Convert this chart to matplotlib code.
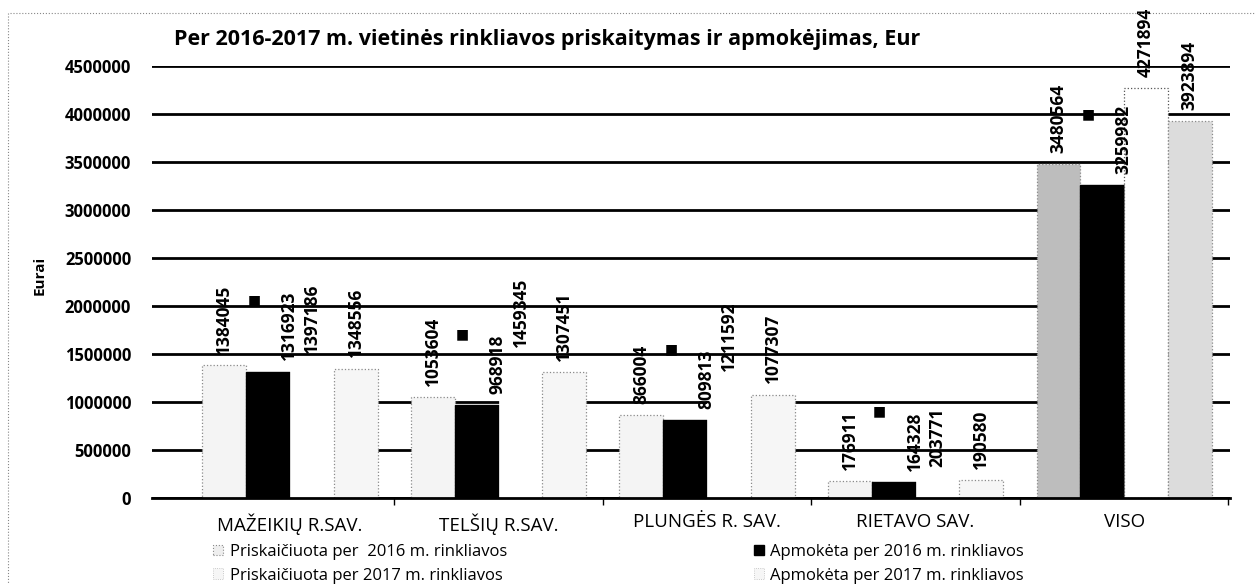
import matplotlib
matplotlib.use("Agg")
import matplotlib.pyplot as plt
import matplotlib.patches as mpatches
import numpy as np

plt.rcParams['font.family'] = ['Open Sans', 'DejaVu Sans']

categories = ["MAŽEIKIŲ R.SAV.", "TELŠIŲ R.SAV.", "PLUNGĖS R. SAV.", "RIETAVO SAV.", "VISO"]
series_names = ["Priskaičiuota per  2016 m. rinkliavos",
                "Apmokėta per 2016 m. rinkliavos",
                "Priskaičiuota per 2017 m. rinkliavos",
                "Apmokėta per 2017 m. rinkliavos"]
prisk_2016 = [1384045, 1053604, 866004, 176911, 3480564]
apmok_2016 = [1316923, 968918, 809813, 164328, 3259982]
prisk_2017 = [1397186, 1459345, 1211592, 203771, 4271894]
apmok_2017 = [1348556, 1307451, 1077307, 190580, 3923894]
yticks = [0, 500000, 1000000, 1500000, 2000000, 2500000, 3000000, 3500000, 4000000, 4500000]
title = "Per 2016-2017 m. vietinės rinkliavos priskaitymas ir apmokėjimas, Eur"
ylabel = "Eurai"

W, H = 1260, 584
fig = plt.figure(figsize=(W / 100, H / 100), dpi=100)
ax = fig.add_axes([152 / W, 1 - 498 / H, (1230 - 152) / W, (498 - 66) / H])

x = np.arange(len(categories))
bw = 0.21
offs = [-1.5 * bw, -0.5 * bw, 0.5 * bw, 1.5 * bw]

c1 = ['#f4f4f4', '#f4f4f4', '#f4f4f4', '#f4f4f4', '#bdbdbd']
c4 = ['#f6f6f6', '#f6f6f6', '#f6f6f6', '#f6f6f6', '#dcdcdc']
b1 = ax.bar(x + offs[0], prisk_2016, bw, color=c1, edgecolor='#8a8a8a', linestyle=':', linewidth=0.9, zorder=2)
b2 = ax.bar(x + offs[1], apmok_2016, bw, color='black', edgecolor='black', zorder=2)
b3 = ax.bar(x + offs[2], prisk_2017, bw, color='white', edgecolor='white', linewidth=0.5, zorder=2)
b4 = ax.bar(x + offs[3], apmok_2017, bw, color=c4, edgecolor='#8a8a8a', linestyle=':', linewidth=0.9, zorder=2)
b3[4].set_edgecolor('#555555')
b3[4].set_linestyle(':')
b3[4].set_linewidth(0.9)

lab_kw = dict(rotation=90, ha='center', va='bottom', fontsize=12.5, fontweight='bold',
              textcoords='offset points', zorder=5)
for vals, off, dx in [(prisk_2016, offs[0], 0), (apmok_2016, offs[1], 15),
                      (prisk_2017, offs[2], 0), (apmok_2017, offs[3], 0)]:
    for xi, v in zip(x, vals):
        ax.annotate(f"{v}", xy=(xi + off, v), xytext=(dx, 8), **lab_kw)

for xi, v in zip(x, apmok_2016):
    ax.annotate("■", xy=(xi + offs[1], v), xytext=(-10, 51), textcoords='offset points',
                ha='center', va='center', fontsize=10, family='DejaVu Sans', color='black')

ax.set_ylim(0, 4500000)
ax.set_xlim(-0.662, 4.508)
ax.set_yticks(yticks)
ax.set_yticklabels([str(t) for t in yticks], fontsize=12, fontweight='bold')
ax.yaxis.grid(True, color='black', linewidth=2.0, zorder=1)
ax.set_axisbelow(True)
ax.tick_params(axis='y', length=0, pad=15)
ax.set_xticks(x)
ax.set_xticklabels(categories, fontsize=13.5)
ax.set_xticks(np.arange(len(categories)) + 0.5, minor=True)
ax.tick_params(axis='x', which='major', length=0, pad=11)
ax.tick_params(axis='x', which='minor', length=5, width=1, direction='out')
for s in ['left', 'right', 'top']:
    ax.spines[s].set_visible(False)
ax.spines['bottom'].set_linewidth(2.0)

fig.text(547 / W, 1 - 40 / H, title, ha='center', va='center', fontsize=15.5, fontweight='bold')
fig.text(40 / W, 1 - 275 / H, ylabel, rotation=90, ha='center', va='center', fontsize=11, fontweight='bold')

fig.add_artist(plt.Line2D([10 / W, 1255 / W], [1 - 13 / H, 1 - 13 / H], color='#888888', linestyle=':', linewidth=0.8))
fig.add_artist(plt.Line2D([8 / W, 8 / W], [1 - 13 / H, 0], color='#888888', linestyle=':', linewidth=0.8))

handles = [
    mpatches.Patch(facecolor='#eeeeee', edgecolor='#8a8a8a', linestyle=':', linewidth=0.8),
    mpatches.Patch(facecolor='#f6f6f6', edgecolor='#bbbbbb', linestyle=':', linewidth=0.6),
    mpatches.Patch(facecolor='black', edgecolor='black'),
    mpatches.Patch(facecolor='#f6f6f6', edgecolor='#bbbbbb', linestyle=':', linewidth=0.6),
]
labels = [series_names[0], series_names[2], series_names[1], series_names[3]]
fig.legend(handles, labels, ncol=2, loc='upper left', bbox_to_anchor=(213 / W, 1 - 544 / H),
           frameon=False, fontsize=12, handlelength=0.6, handleheight=0.6, handletextpad=0.4,
           labelspacing=0.45, columnspacing=14.8, borderaxespad=0, borderpad=0)

fig.savefig("out.png", dpi=100)
